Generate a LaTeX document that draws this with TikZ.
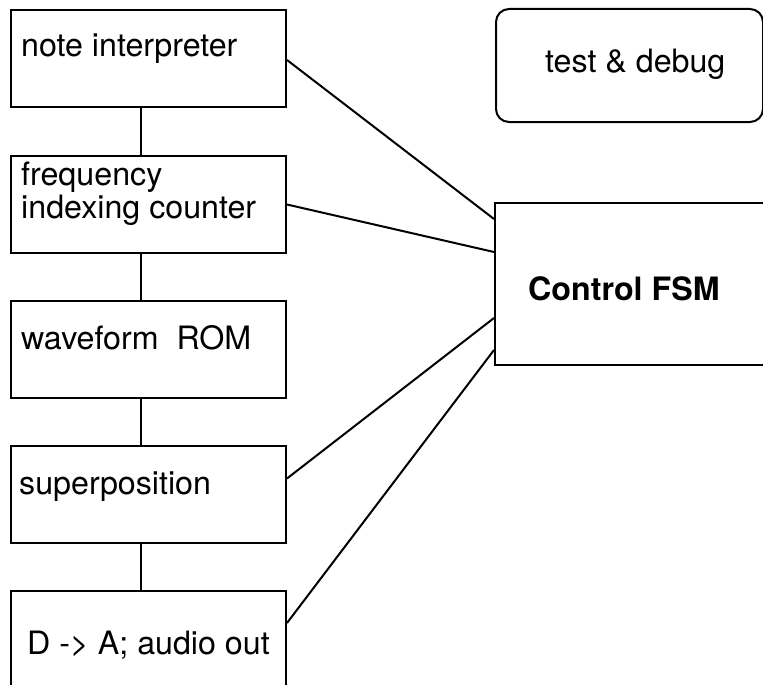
\documentclass[tikz,border=0pt]{standalone}
\usepackage{fontspec}
\setmainfont{TeX Gyre Heros}
\begin{document}
\begin{tikzpicture}[x=1pt,y=-1pt,
  box/.style={draw, line width=2pt, minimum width=275pt, minimum height=97pt,
              inner sep=0pt, anchor=north west},
  lbl/.style={anchor=base west, inner sep=0pt, font=\fontsize{32.2}{33}\selectfont},
  wire/.style={line width=2pt}]
\useasboundingbox (0,0) rectangle (763,685);
\clip (0,0) rectangle (763,685);

% processing chain on the left
\node[box] (n1) at (10,9) {};
\node[box] (n2) at (10,155) {};
\node[box] (n3) at (10,300) {};
\node[box] (n4) at (10,445) {};
\node[box] (n5) at (10,590) {};

\node[lbl] (t1)  at (21,57)  {note interpreter};
\node[lbl] (t2a) at (21,185) {frequency};
\node[lbl] (t2b) at (21,218) {indexing counter};
\node[lbl] (t3)  at (21,349) {waveform\ \ ROM};
\node[lbl] (t4)  at (19,494) {superposition};
\node[lbl] (t5)  at (27,654) {D -> A; audio out};

% right-hand blocks
\node[draw, line width=2pt, rounded corners=13pt, minimum width=267pt,
      minimum height=113pt, inner sep=0pt, anchor=north west] (test) at (495,8) {};
\node[lbl] (tt) at (545,73) {test \& debug};

\node[draw, line width=2pt, minimum width=290pt, minimum height=162pt,
      inner sep=0pt, anchor=north west] (fsm) at (494,202) {};
\node[lbl, font=\fontsize{32.2}{33}\selectfont\bfseries] (tf) at (528,300) {Control FSM};

% chain links
\draw[wire] ([xshift=-7.5pt]n1.south) -- ([xshift=-7.5pt]n2.north);
\draw[wire] ([xshift=-7.5pt]n2.south) -- ([xshift=-7.5pt]n3.north);
\draw[wire] ([xshift=-7.5pt]n3.south) -- ([xshift=-7.5pt]n4.north);
\draw[wire] ([xshift=-7.5pt]n4.south) -- ([xshift=-7.5pt]n5.north);

% control lines to the FSM
\draw[wire] ([yshift=-1.5pt]n1.east) -- ([yshift=65pt]fsm.west);
\draw[wire] ([yshift=0pt]n2.east) -- ([yshift=32pt]fsm.west);
\draw[wire] ([yshift=16pt]n4.east) -- ([yshift=-34pt]fsm.west);
\draw[wire] ([yshift=16.5pt]n5.east) -- ([yshift=-66pt]fsm.west);
\end{tikzpicture}
\end{document}
